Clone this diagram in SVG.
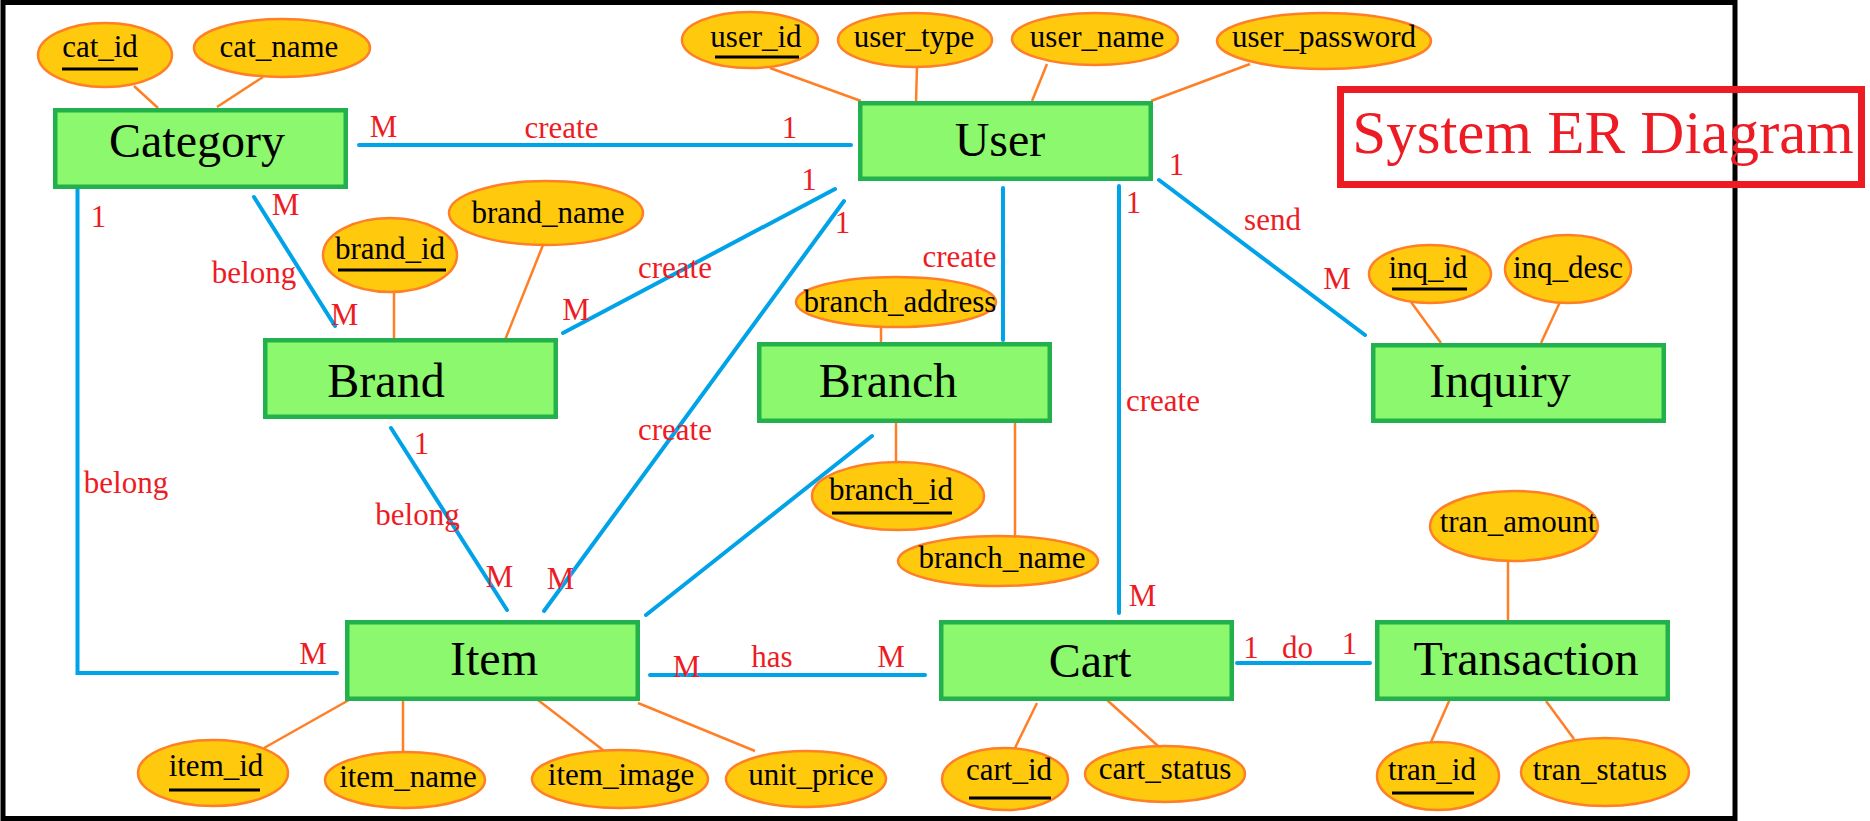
<svg xmlns="http://www.w3.org/2000/svg" width="1870" height="821" viewBox="0 0 1870 821">
<style>
.ent{fill:#8bf86d;stroke:#22b14c;stroke-width:4.5}
.att{fill:#ffc90e;stroke:#ff7f27;stroke-width:2.5}
.et{font-family:"Liberation Serif","Times New Roman",serif;font-size:48px;fill:#000;text-anchor:middle}
.at{font-family:"Liberation Serif","Times New Roman",serif;font-size:31px;fill:#000;text-anchor:middle}
.lb{font-family:"Liberation Serif","Times New Roman",serif;font-size:31px;fill:#ed1c24;text-anchor:middle}
.ul{stroke:#000;stroke-width:3}
.rel{stroke:#00a2e8;stroke-width:4;fill:none;stroke-linecap:round;stroke-linejoin:miter}
.al{stroke:#ff7f27;stroke-width:2.5;fill:none}
</style>
<rect x="0" y="0" width="1870" height="821" fill="#fff"/>
<rect x="3" y="2.5" width="1732" height="816" fill="none" stroke="#000" stroke-width="5"/>

<g id="connectors">
  <line class="rel" x1="359" y1="145" x2="851" y2="145"/>
  <polyline class="rel" points="77.5,189 77.5,673 337,673"/>
  <line class="rel" x1="254" y1="197" x2="335" y2="326"/>
  <line class="rel" x1="563" y1="333" x2="835" y2="189"/>
  <line class="rel" x1="544" y1="611" x2="844" y2="201"/>
  <line class="rel" x1="391" y1="428" x2="507" y2="610"/>
  <line class="rel" x1="1003" y1="188" x2="1003" y2="340"/>
  <line class="rel" x1="872" y1="436" x2="646" y2="615"/>
  <line class="rel" x1="1119" y1="186" x2="1119" y2="613"/>
  <line class="rel" x1="1159" y1="180" x2="1365" y2="335"/>
  <line class="rel" x1="650" y1="675" x2="925" y2="675"/>
  <line class="rel" x1="1237" y1="663" x2="1370" y2="663"/>
  <line class="al" x1="134" y1="86" x2="158" y2="108"/>
  <line class="al" x1="263" y1="77" x2="217" y2="107"/>
  <line class="al" x1="770" y1="68" x2="861" y2="101"/>
  <line class="al" x1="917" y1="67" x2="916" y2="103"/>
  <line class="al" x1="1047" y1="64" x2="1032" y2="101"/>
  <line class="al" x1="1250" y1="64" x2="1151" y2="101"/>
  <line class="al" x1="394" y1="292" x2="394" y2="338"/>
  <line class="al" x1="543" y1="245" x2="505" y2="340"/>
  <line class="al" x1="881" y1="327" x2="881" y2="344"/>
  <line class="al" x1="896" y1="423" x2="896" y2="462"/>
  <line class="al" x1="1015" y1="423" x2="1015" y2="537"/>
  <line class="al" x1="1411" y1="302" x2="1441" y2="343"/>
  <line class="al" x1="1560" y1="302" x2="1541" y2="343"/>
  <line class="al" x1="1508" y1="561" x2="1508" y2="620"/>
  <line class="al" x1="349" y1="700" x2="264" y2="748"/>
  <line class="al" x1="403" y1="700" x2="403" y2="752"/>
  <line class="al" x1="534" y1="697" x2="603" y2="750"/>
  <line class="al" x1="638" y1="703" x2="755" y2="751"/>
  <line class="al" x1="1037" y1="703" x2="1015" y2="748"/>
  <line class="al" x1="1107" y1="700" x2="1158" y2="746"/>
  <line class="al" x1="1450" y1="699" x2="1431" y2="742"/>
  <line class="al" x1="1546" y1="701" x2="1574" y2="739"/>
</g>

<g id="labels">
  <text class="lb" x="383.5" y="137">M</text>
  <text class="lb" x="561.5" y="138">create</text>
  <text class="lb" x="789.5" y="138">1</text>
  <text class="lb" x="98.5" y="227">1</text>
  <text class="lb" x="285.5" y="215">M</text>
  <text class="lb" x="254" y="283">belong</text>
  <text class="lb" x="344.5" y="325">M</text>
  <text class="lb" x="576" y="320">M</text>
  <text class="lb" x="675" y="278">create</text>
  <text class="lb" x="809" y="190">1</text>
  <text class="lb" x="842.5" y="233">1</text>
  <text class="lb" x="675" y="440">create</text>
  <text class="lb" x="126" y="493">belong</text>
  <text class="lb" x="421.5" y="454">1</text>
  <text class="lb" x="417.5" y="525">belong</text>
  <text class="lb" x="499.5" y="587">M</text>
  <text class="lb" x="560.5" y="589">M</text>
  <text class="lb" x="313" y="664">M</text>
  <text class="lb" x="959.5" y="267">create</text>
  <text class="lb" x="1133.5" y="213">1</text>
  <text class="lb" x="1163" y="411">create</text>
  <text class="lb" x="1142.5" y="606">M</text>
  <text class="lb" x="1176.5" y="175">1</text>
  <text class="lb" x="1272.5" y="230">send</text>
  <text class="lb" x="1337" y="289">M</text>
  <text class="lb" x="686.5" y="677">M</text>
  <text class="lb" x="772" y="667">has</text>
  <text class="lb" x="891" y="667">M</text>
  <text class="lb" x="1251" y="658">1</text>
  <text class="lb" x="1297.5" y="658">do</text>
  <text class="lb" x="1349.5" y="654">1</text>
</g>

<g id="category"><rect class="ent" x="55.25" y="110.25" width="290.5" height="76.5"/><text class="et" x="197" y="157">Category</text></g>
<g id="user"><rect class="ent" x="860.25" y="103.25" width="290.5" height="75.5"/><text class="et" x="1000" y="156">User</text></g>
<g id="brand"><rect class="ent" x="265.25" y="340.25" width="290.5" height="76.5"/><text class="et" x="386" y="397">Brand</text></g>
<g id="branch"><rect class="ent" x="759.25" y="344.25" width="290.5" height="76.5"/><text class="et" x="888" y="397">Branch</text></g>
<g id="inquiry"><rect class="ent" x="1373.25" y="345.25" width="290.5" height="75.5"/><text class="et" x="1500" y="397">Inquiry</text></g>
<g id="item"><rect class="ent" x="347.25" y="622.25" width="290.5" height="76.5"/><text class="et" x="494" y="675">Item</text></g>
<g id="cart"><rect class="ent" x="941.25" y="622.25" width="290.5" height="76.5"/><text class="et" x="1090" y="677">Cart</text></g>
<g id="transaction"><rect class="ent" x="1377.25" y="622.25" width="290.5" height="76.5"/><text class="et" x="1526" y="675">Transaction</text></g>

<g id="cat_id"><ellipse class="att" cx="105" cy="55" rx="67" ry="32"/><text class="at" x="100" y="57">cat_id</text><line class="ul" x1="62" y1="69" x2="138" y2="69"/></g>
<g id="cat_name"><ellipse class="att" cx="282" cy="48" rx="88" ry="29"/><text class="at" x="279" y="57">cat_name</text></g>
<g id="user_id"><ellipse class="att" cx="750" cy="40" rx="68" ry="28"/><text class="at" x="756" y="47">user_id</text><line class="ul" x1="715" y1="57" x2="799" y2="57"/></g>
<g id="user_type"><ellipse class="att" cx="915" cy="40" rx="77" ry="27"/><text class="at" x="914" y="47">user_type</text></g>
<g id="user_name"><ellipse class="att" cx="1095" cy="39" rx="83" ry="26"/><text class="at" x="1097" y="47">user_name</text></g>
<g id="user_password"><ellipse class="att" cx="1324" cy="41" rx="107" ry="28"/><text class="at" x="1324" y="47">user_password</text></g>
<g id="brand_id"><ellipse class="att" cx="390" cy="255" rx="67" ry="37"/><text class="at" x="390" y="259">brand_id</text><line class="ul" x1="338" y1="270" x2="446" y2="270"/></g>
<g id="brand_name"><ellipse class="att" cx="546" cy="213" rx="97" ry="32"/><text class="at" x="548" y="223">brand_name</text></g>
<g id="branch_address"><ellipse class="att" cx="896" cy="302" rx="100" ry="25"/><text class="at" x="900" y="312" font-size="30">branch_address</text></g>
<g id="branch_id"><ellipse class="att" cx="898" cy="496" rx="86" ry="34"/><text class="at" x="891" y="500">branch_id</text><line class="ul" x1="832" y1="513" x2="952" y2="513"/></g>
<g id="branch_name"><ellipse class="att" cx="998" cy="561" rx="100" ry="25"/><text class="at" x="1002" y="568">branch_name</text></g>
<g id="inq_id"><ellipse class="att" cx="1430" cy="274" rx="61" ry="29"/><text class="at" x="1428" y="278">inq_id</text><line class="ul" x1="1392" y1="289" x2="1467" y2="289"/></g>
<g id="inq_desc"><ellipse class="att" cx="1568" cy="269" rx="63" ry="34"/><text class="at" x="1568" y="278">inq_desc</text></g>
<g id="tran_amount"><ellipse class="att" cx="1514" cy="526" rx="84" ry="35"/><text class="at" x="1518" y="532" font-size="34">tran_amount</text></g>
<g id="item_id"><ellipse class="att" cx="213" cy="773" rx="75" ry="33"/><text class="at" x="216" y="776">item_id</text><line class="ul" x1="169" y1="790" x2="260" y2="790"/></g>
<g id="item_name"><ellipse class="att" cx="405" cy="780" rx="80" ry="28"/><text class="at" x="408" y="787">item_name</text></g>
<g id="item_image"><ellipse class="att" cx="620" cy="779" rx="88" ry="29"/><text class="at" x="621" y="785">item_image</text></g>
<g id="unit_price"><ellipse class="att" cx="806" cy="779" rx="80" ry="28"/><text class="at" x="811" y="785">unit_price</text></g>
<g id="cart_id"><ellipse class="att" cx="1005" cy="779" rx="63" ry="31"/><text class="at" x="1009" y="780">cart_id</text><line class="ul" x1="969" y1="798" x2="1051" y2="798"/></g>
<g id="cart_status"><ellipse class="att" cx="1165" cy="774" rx="80" ry="28"/><text class="at" x="1165" y="779">cart_status</text></g>
<g id="tran_id"><ellipse class="att" cx="1438" cy="776" rx="61" ry="34"/><text class="at" x="1432" y="780">tran_id</text><line class="ul" x1="1392" y1="793" x2="1474" y2="793"/></g>
<g id="tran_status"><ellipse class="att" cx="1605" cy="772" rx="84" ry="34"/><text class="at" x="1600" y="780">tran_status</text></g>

<g id="title"><rect x="1340.5" y="89.5" width="521" height="95" fill="none" stroke="#ed1c24" stroke-width="7"/><text x="1603" y="153" font-family="'Liberation Serif','Times New Roman',serif" font-size="61" fill="#ed1c24" text-anchor="middle">System ER Diagram</text></g>
</svg>
